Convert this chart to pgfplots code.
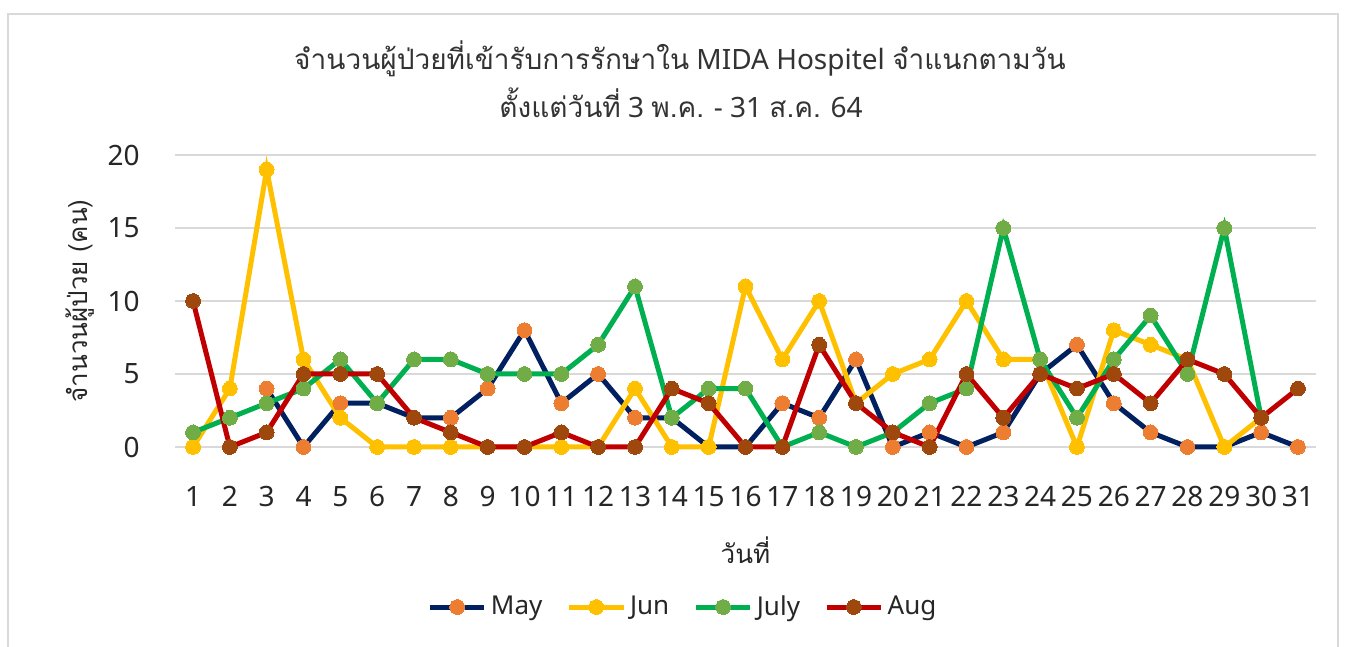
\documentclass[border=0pt]{standalone}
\usepackage{fontspec}
\setmainfont{Noto Sans}
\newfontfamily\thai[Script=Thai]{Loma}
\usepackage{pgfplots}
\pgfplotsset{compat=1.18}
\definecolor{mayL}{HTML}{002060}
\definecolor{mayM}{HTML}{ED7D31}
\definecolor{junL}{HTML}{FFC000}
\definecolor{junM}{HTML}{FFC000}
\definecolor{julL}{HTML}{00B050}
\definecolor{julM}{HTML}{70AD47}
\definecolor{augL}{HTML}{C00000}
\definecolor{augM}{HTML}{9E480E}
\definecolor{gridc}{HTML}{D9D9D9}
\begin{document}
\begin{tikzpicture}
\path[use as bounding box] (0pt,0pt) rectangle (674.5pt,323.5pt);
\draw[color=gridc, line width=1pt] (4pt,-2pt) -- (4pt,316.5pt) -- (669pt,316.5pt) -- (669pt,-2pt);
\node[font=\fontsize{14}{17}\selectfont, text=black!80] at (340pt,294pt) {{\thai จำนวนผู้ป่วยที่เข้ารับการรักษาใน} MIDA Hospitel {\thai จำแนกตามวัน}};
\node[font=\fontsize{14}{17}\selectfont, text=black!80] at (340.5pt,272pt) {{\thai ตั้งแต่วันที่} 3 {\thai พ.ค.} - 31 {\thai ส.ค.} 64};
\begin{axis}[
  at={(87.3pt,100pt)}, anchor=south west,
  scale only axis, width=570.9pt, height=146pt,
  xmin=0.5, xmax=31.5, ymin=0, ymax=20,
  xtick={1,...,31}, ytick={0,5,10,15,20},
  axis line style={draw=none},
  major tick length=0pt,
  ymajorgrids, grid style={color=gridc, line width=1pt},
  clip=false,
  /pgf/number format/assume math mode=true,
  tick label style={font=\fontsize{14}{16}\selectfont, text=black!85},
  yticklabel style={xshift=-14pt},
  xticklabel style={yshift=-16pt},
  xlabel={\thai วันที่},
  ylabel={\thai จำนวนผู้ป่วย (คน)},
  label style={font=\fontsize{13}{15}\selectfont, text=black!85},
  xlabel style={at={(axis description cs:0.5,-0.353)}, anchor=center},
  ylabel style={at={(axis description cs:-0.083,0.5)}, anchor=center},
  legend style={at={(0.446,-0.548)}, anchor=center, draw=none, fill=none,
    legend columns=4, font=\fontsize{13}{15}\selectfont, text=black!85,
    /tikz/every even column/.append style={column sep=10pt}},
  legend image code/.code={\draw[mark repeat=2,mark phase=2] plot coordinates {(0cm,0cm)(0.48cm,0cm)(0.96cm,0cm)};},
  every axis plot/.append style={line width=2.5pt, mark=*, mark size=3.7pt},
]
\addplot[color=mayL, mark options={fill=mayM, draw=mayM, line width=0pt}] coordinates {(3,4)(4,0)(5,3)(6,3)(7,2)(8,2)(9,4)(10,8)(11,3)(12,5)(13,2)(14,2)(15,0)(16,0)(17,3)(18,2)(19,6)(20,0)(21,1)(22,0)(23,1)(24,5)(25,7)(26,3)(27,1)(28,0)(29,0)(30,1)(31,0)};
\addlegendentry{May}
\addplot[color=junL, mark options={fill=junM, draw=junM, line width=0pt}] coordinates {(1,0)(2,4)(3,19)(4,6)(5,2)(6,0)(7,0)(8,0)(9,0)(10,0)(11,0)(12,0)(13,4)(14,0)(15,0)(16,11)(17,6)(18,10)(19,3)(20,5)(21,6)(22,10)(23,6)(24,6)(25,0)(26,8)(27,7)(28,6)(29,0)(30,2)};
\addlegendentry{Jun}
\addplot[color=julL, mark options={fill=julM, draw=julM, line width=0pt}] coordinates {(1,1)(2,2)(3,3)(4,4)(5,6)(6,3)(7,6)(8,6)(9,5)(10,5)(11,5)(12,7)(13,11)(14,2)(15,4)(16,4)(17,0)(18,1)(19,0)(20,1)(21,3)(22,4)(23,15)(24,6)(25,2)(26,6)(27,9)(28,5)(29,15)(30,2)};
\addlegendentry{July}
\addplot[color=augL, mark options={fill=augM, draw=augM, line width=0pt}] coordinates {(1,10)(2,0)(3,1)(4,5)(5,5)(6,5)(7,2)(8,1)(9,0)(10,0)(11,1)(12,0)(13,0)(14,4)(15,3)(16,0)(17,0)(18,7)(19,3)(20,1)(21,0)(22,5)(23,2)(24,5)(25,4)(26,5)(27,3)(28,6)(29,5)(30,2)(31,4)};
\addlegendentry{Aug}
\end{axis}
\end{tikzpicture}
\end{document}
